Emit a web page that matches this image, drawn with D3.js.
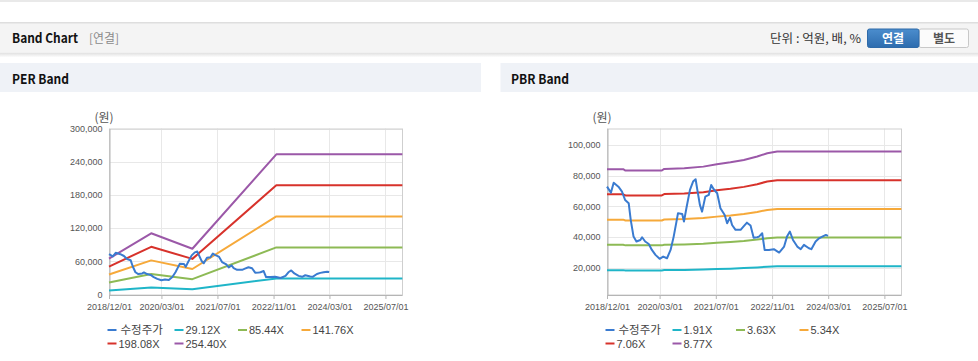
<!DOCTYPE html>
<html><head><meta charset="utf-8">
<script src="https://cdn.jsdelivr.net/npm/d3@7"></script>
<style>body{margin:0;background:#fff;} svg{display:block}</style>
</head><body><svg id="c" width="978" height="361"></svg>
<script>
// ---------- data ----------
const xTickDates = ["2018-12-01","2020-03-01","2021-07-01","2022-11-01","2024-03-01","2025-07-01"];
const xTickLabels = ["2018/12/01","2020/03/01","2021/07/01","2022/11/01","2024/03/01","2025/07/01"];
const perYTicks = [0,60000,120000,180000,240000,300000];
const pbrYTicks = [20000,40000,60000,80000,100000];

const priceName = "수정주가";
const priceDates = ["2018-12-01","2019-01-04","2019-01-28","2019-03-10","2019-04-10","2019-05-07","2019-06-07","2019-06-25","2019-07-19","2019-08-13","2019-09-16","2019-10-01","2019-10-28","2019-11-28","2019-12-25","2020-01-25","2020-03-01","2020-04-01","2020-05-04","2020-06-04","2020-07-01","2020-07-25","2020-08-07","2020-09-13","2020-09-28","2020-10-19","2020-11-19","2020-12-16","2021-01-07","2021-01-22","2021-02-13","2021-03-04","2021-04-01","2021-05-01","2021-05-22","2021-06-13","2021-07-13","2021-08-10","2021-09-16","2021-10-07","2021-11-01","2021-11-19","2021-12-19","2022-02-01","2022-02-25","2022-03-28","2022-04-28","2022-05-25","2022-06-25","2022-07-10","2022-08-07","2022-08-28","2022-10-04","2022-11-16","2023-01-01","2023-02-13","2023-03-10","2023-04-04","2023-05-01","2023-06-07","2023-07-07","2023-08-04","2023-09-16","2023-10-07","2023-11-13","2023-12-13","2024-01-10","2024-02-10","2024-02-28"];
const priceValues = [72800,68900,75400,72800,69600,64100,62000,51000,40200,37000,38000,39800,37000,35400,31500,28300,25700,27200,26100,31500,40200,50000,55400,55000,50000,58700,70700,76100,77600,70700,60900,56500,66300,67400,73900,71100,68500,58700,54300,48900,52600,47800,44600,44600,46700,49300,47500,39500,39800,40200,42400,31500,31500,32000,29800,33700,40200,43500,38000,33700,32000,34800,32600,32000,37000,39100,40200,41300,40700];

const perBandDates = ["2018-12-01","2019-12-03","2020-11-25","2022-11-25","2025-11-25"];
const perLabels = ["29.12X","85.44X","141.76X","198.08X","254.40X"];
const perBand1 = [7430,12670,9460,29000,29000];
const perBand2 = [21790,37170,27770,85100,85100];
const perBand3 = [36150,61670,46070,141190,141190];
const perBand4 = [50510,86170,64380,197290,197290];
const perBand5 = [64870,110660,82680,253380,253380];

const pbrBandDates = ["2018-12-01","2019-04-20","2019-05-10","2020-03-20","2020-04-10","2020-10-01","2021-03-15","2021-07-10","2021-11-05","2022-03-01","2022-06-25","2022-09-20","2022-12-15","2025-11-25"];
const pbrLabels = ["1.91X","3.63X","5.34X","7.06X","8.77X"];
const pbrBand1 = [18340,18340,18150,18150,18370,18470,18700,19040,19310,19650,20130,20610,20840,20840];
const pbrBand2 = [34850,34850,34490,34490,34920,35100,35540,36190,36700,37350,38260,39170,39600,39600];
const pbrBand3 = [51260,51260,50730,50730,51370,51640,52280,53240,53990,54950,56280,57620,58260,58260];
const pbrBand4 = [67780,67780,67070,67070,67920,68270,69120,70390,71380,72650,74410,76180,77020,77020];
const pbrBand5 = [84190,84190,83320,83320,84370,84810,85860,87440,88660,90240,92440,94630,95680,95680];

// ---------- styles ----------
const colors = ["#3a7bd0","#1fb5c8","#8dba55","#f6a93a","#d7322b","#9b58a8"];
const parse = d3.timeParse("%Y-%m-%d");
const svg = d3.select("#c");
const KR = "'Noto Sans CJK KR','Noto Sans',sans-serif";
const LAT = "'Liberation Sans',Arial,sans-serif";

// ---------- page chrome ----------
svg.append("rect").attr("x",0).attr("y",0).attr("width",978).attr("height",2).attr("fill","#e9e9e9");
const defs = svg.append("defs");
const sg = defs.append("linearGradient").attr("id","shadow").attr("x1",0).attr("y1",0).attr("x2",0).attr("y2",1);
sg.append("stop").attr("offset","0%").attr("stop-color","#000").attr("stop-opacity",0.13);
sg.append("stop").attr("offset","100%").attr("stop-color","#000").attr("stop-opacity",0);
const bg = defs.append("linearGradient").attr("id","btn").attr("x1",0).attr("y1",0).attr("x2",0).attr("y2",1);
bg.append("stop").attr("offset","0%").attr("stop-color","#4b8dcd");
bg.append("stop").attr("offset","100%").attr("stop-color","#2d6cae");

svg.append("rect").attr("x",0).attr("y",52.5).attr("width",978).attr("height",5).attr("fill","url(#shadow)");
svg.append("rect").attr("x",0).attr("y",22.5).attr("width",978).attr("height",30).attr("fill","#f4f4f4");
svg.append("rect").attr("x",0).attr("y",22).attr("width",978).attr("height",1.5).attr("fill","#dedede");
svg.append("text").attr("x",12).attr("y",43).attr("font-family",KR).attr("font-weight","bold").attr("font-size",13)
  .attr("textLength",66).attr("lengthAdjust","spacingAndGlyphs").attr("fill","#111").text("Band Chart");
svg.append("text").attr("x",89).attr("y",43).attr("font-family",KR).attr("font-size",12)
  .attr("textLength",30).attr("lengthAdjust","spacingAndGlyphs").attr("fill","#8a8a8a").text("[연결]");
svg.append("text").attr("x",770).attr("y",43).attr("font-family",KR).attr("font-size",12)
  .attr("textLength",91).attr("lengthAdjust","spacingAndGlyphs").attr("fill","#333").text("단위 : 억원, 배, %");
svg.append("rect").attr("x",919).attr("y",29).attr("width",49.5).attr("height",18.5).attr("rx",2).attr("fill","#fbfbfb").attr("stroke","#c8c8c8");
svg.append("rect").attr("x",867.5).attr("y",29).attr("width",51.5).attr("height",18.5).attr("rx",2).attr("fill","url(#btn)").attr("stroke","#2e6aa8");
svg.append("text").attr("x",893).attr("y",42.5).attr("text-anchor","middle").attr("font-family",KR).attr("font-weight","bold").attr("font-size",12).attr("fill","#fff").text("연결");
svg.append("text").attr("x",944).attr("y",42.5).attr("text-anchor","middle").attr("font-family",KR).attr("font-weight","bold").attr("font-size",12).attr("fill","#555").text("별도");

svg.append("rect").attr("x",0).attr("y",63).attr("width",481).attr("height",29).attr("fill","#eff2f7");
svg.append("rect").attr("x",500.5).attr("y",63).attr("width",477.5).attr("height",29).attr("fill","#eff2f7");
svg.append("text").attr("x",12).attr("y",84).attr("font-family",KR).attr("font-weight","bold").attr("font-size",13.5)
  .attr("textLength",57).attr("lengthAdjust","spacingAndGlyphs").attr("fill","#111").text("PER Band");
svg.append("text").attr("x",511).attr("y",84).attr("font-family",KR).attr("font-weight","bold").attr("font-size",13.5)
  .attr("textLength",58).attr("lengthAdjust","spacingAndGlyphs").attr("fill","#111").text("PBR Band");

// ---------- chart ----------
function drawChart(cfg) {
  const x = d3.scaleTime().domain([parse("2018-12-01"), parse("2025-11-22")]).range([cfg.left, cfg.right]);
  const y = d3.scaleLinear().domain(cfg.yDomain).range([cfg.bottom, cfg.top]);
  const g = svg.append("g");
  const tDates = xTickDates.map(parse);

  // grid
  g.append("g").selectAll("line").data(cfg.yTicks).join("line")
    .attr("x1",cfg.left).attr("x2",cfg.right).attr("y1",d=>Math.round(y(d))+0.5).attr("y2",d=>Math.round(y(d))+0.5)
    .attr("stroke","#e8e8e8");
  g.append("g").selectAll("line").data(tDates).join("line")
    .attr("x1",d=>Math.round(x(d))+0.5).attr("x2",d=>Math.round(x(d))+0.5).attr("y1",cfg.top).attr("y2",cfg.bottom)
    .attr("stroke","#e8e8e8");
  g.append("rect").attr("x",cfg.left+0.5).attr("y",cfg.top+0.5).attr("width",cfg.right-cfg.left).attr("height",cfg.bottom-cfg.top)
    .attr("fill","none").attr("stroke","#cfcfcf");

  // axes
  const xa = g.append("g").attr("transform",`translate(0,${cfg.bottom+0.5})`)
    .call(d3.axisBottom(x).tickValues(tDates).tickFormat((d,i)=>xTickLabels[i]).tickSize(4).tickSizeOuter(0));
  xa.select(".domain").attr("stroke","#b5b5b5");
  xa.selectAll(".tick line").attr("stroke","#b5b5b5");
  xa.selectAll("text").attr("font-family",LAT).attr("font-size",9).attr("fill","#555").attr("dy","0.9em");
  const ya = g.append("g").attr("transform",`translate(${cfg.left+0.5},0)`)
    .call(d3.axisLeft(y).tickValues(cfg.yTicks).tickFormat(d3.format(",")).tickSize(0).tickPadding(7));
  ya.select(".domain").attr("stroke","#b5b5b5");
  ya.selectAll("text").attr("font-family",LAT).attr("font-size",9).attr("fill","#555");
  g.append("text").attr("x",cfg.left-5).attr("y",cfg.top-7).attr("text-anchor","middle").attr("font-family",KR).attr("font-size",12).attr("fill","#555").text("(원)");

  // lines
  const line = d3.line().x(d=>x(d[0])).y(d=>y(d[1]));
  const bd = cfg.bandDates.map(parse);
  const series = [{name:priceName, dates:priceDates.map(parse), values:priceValues, color:colors[0]}];
  cfg.bands.forEach((b,i)=>series.push({name:cfg.labels[i], dates:bd, values:b, color:colors[i+1]}));
  series.slice(1).concat([series[0]]).forEach(s=>{
    g.append("path").datum(s.dates.map((d,i)=>[d,s.values[i]]))
      .attr("d",line).attr("fill","none").attr("stroke",s.color).attr("stroke-width",2).attr("stroke-linejoin","round");
  });

  // legend
  const colX = [0,67,130.5,194];
  const lg = g.append("g");
  series.forEach((s,i)=>{
    const lx = cfg.left - 1.5 + colX[i%4];
    const ly = i<4 ? 330 : 343.5;
    lg.append("line").attr("x1",lx).attr("x2",lx+9).attr("y1",ly).attr("y2",ly).attr("stroke",s.color).attr("stroke-width",2);
    lg.append("text").attr("x",lx+(i===0?13:11)).attr("y",ly+4).attr("font-family",i===0?KR:LAT).attr("font-size",i===0?11.5:11).attr("fill","#444").text(s.name);
  });
}

drawChart({left:109, right:402, top:128.5, bottom:294.5, yDomain:[0,300000], yTicks:perYTicks,
  bandDates:perBandDates, labels:perLabels, bands:[perBand1,perBand2,perBand3,perBand4,perBand5]});
drawChart({left:607, right:901, top:128.5, bottom:294.5, yDomain:[2440,110730], yTicks:pbrYTicks,
  bandDates:pbrBandDates, labels:pbrLabels, bands:[pbrBand1,pbrBand2,pbrBand3,pbrBand4,pbrBand5]});
</script></body></html>
